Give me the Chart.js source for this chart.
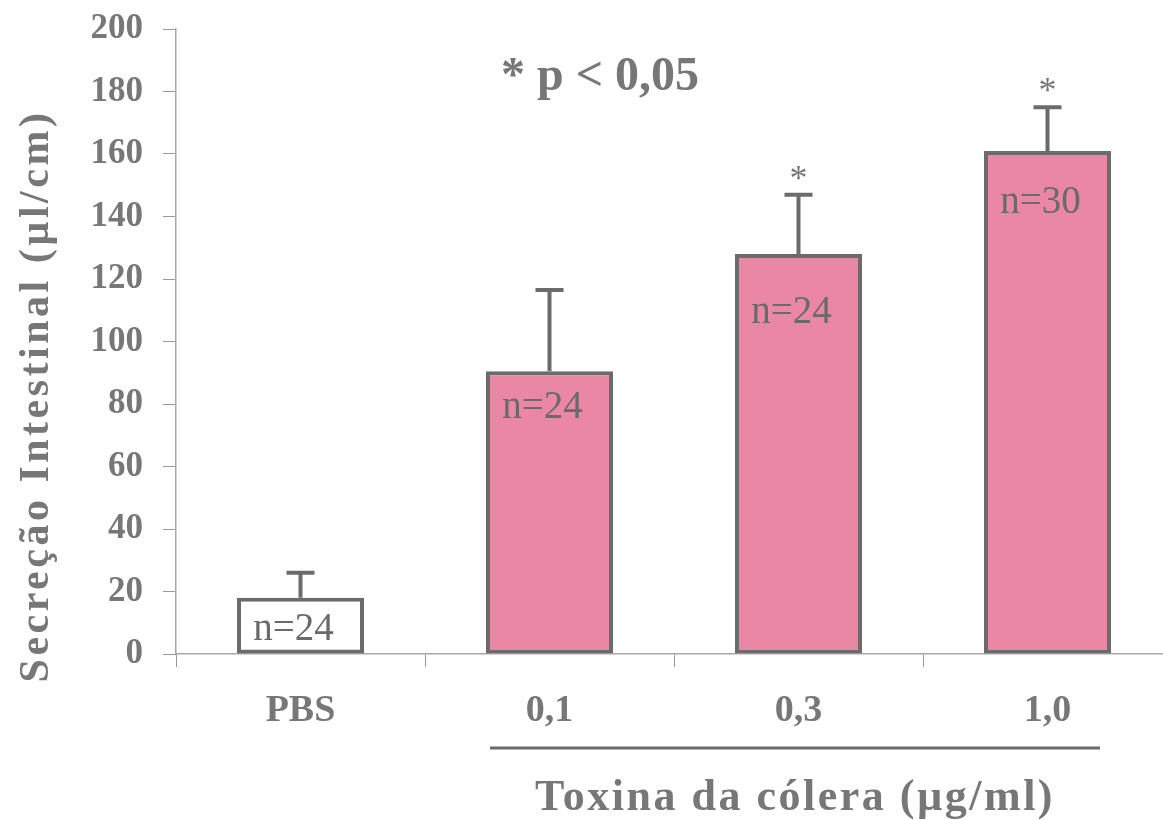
<!DOCTYPE html>
<html>
<head>
<meta charset="utf-8">
<title>Secreção Intestinal</title>
<script src="https://cdn.jsdelivr.net/npm/chart.js@4.4.1/dist/chart.umd.min.js"></script>
<style>
    html, body { margin: 0; padding: 0; background: #fff; overflow: hidden; }
    #chartBox { position: relative; width: 1180px; height: 820px; }
</style>
</head>
<body>
<div id="chartBox">
    <canvas id="secretionChart" width="1180" height="820"></canvas>
</div>
<script>
// Groups and measured secretion (mean + upper error)
const groups = ["PBS", "0,1", "0,3", "1,0"];
const secretion = [18, 90.5, 128, 161];
const errorUp = [8, 26, 19, 14];
const sampleSizes = ["n=24", "n=24", "n=24", "n=30"];
const significant = [false, false, true, true];
const yTicks = [0, 20, 40, 60, 80, 100, 120, 140, 160, 180, 200];

const SERIF = "'Liberation Serif', 'Times New Roman', serif";
const GREY_TEXT = "#777777";
const GREY_LINE = "#6b6b6b";

document.addEventListener("DOMContentLoaded", () => {
    const ctx = document.getElementById("secretionChart").getContext("2d");

    // Error bars, n= labels, asterisks and the free text around the plot
    const annotations = {
        id: "annotations",
        afterDatasetsDraw(chart) {
            const c = chart.ctx;
            const y = chart.scales.y;
            const meta = chart.getDatasetMeta(0);
            const nOffset = [32, 37, 59, 52];

            c.save();
            meta.data.forEach((bar, i) => {
                const cx = bar.x;
                const topY = y.getPixelForValue(secretion[i]);
                const capY = y.getPixelForValue(secretion[i] + errorUp[i]);

                c.strokeStyle = GREY_LINE;
                c.lineWidth = 4;
                c.beginPath();
                c.moveTo(cx, topY);
                c.lineTo(cx, capY);
                c.moveTo(cx - 14, capY);
                c.lineTo(cx + 14, capY);
                c.stroke();

                c.fillStyle = "#6a6a6a";
                c.font = "39px " + SERIF;
                c.textAlign = "center";
                c.textBaseline = "middle";
                c.fillText(sampleSizes[i], cx - 7, topY + nOffset[i]);

                if (significant[i]) {
                    c.fillStyle = GREY_TEXT;
                    c.font = "36px " + SERIF;
                    c.textBaseline = "alphabetic";
                    c.fillText("*", cx, capY - 5);
                }
            });

            // p-value note
            c.fillStyle = GREY_TEXT;
            c.font = "bold 48px " + SERIF;
            c.textAlign = "center";
            c.textBaseline = "alphabetic";
            c.fillText("* p < 0,05", 600, 90);

            // bracket line under the toxin doses
            c.strokeStyle = GREY_LINE;
            c.lineWidth = 3;
            c.beginPath();
            c.moveTo(490, 748);
            c.lineTo(1100, 748);
            c.stroke();

            // x title
            c.letterSpacing = "2.5px";
            c.font = "bold 44px " + SERIF;
            c.fillText("Toxina da cólera (µg/ml)", 795, 810);

            // y title
            c.translate(48, 396);
            c.rotate(-Math.PI / 2);
            c.letterSpacing = "3.5px";
            c.font = "bold 42px " + SERIF;
            c.fillText("Secreção Intestinal (µl/cm)", 0, 0);
            c.restore();
        }
    };

    new Chart(ctx, {
        type: "bar",
        data: {
            labels: groups,
            datasets: [{
                label: "Secreção Intestinal",
                data: secretion,
                backgroundColor: ["#ffffff", "#ea87a4", "#ea87a4", "#ea87a4"],
                borderColor: GREY_LINE,
                borderWidth: 4,
                borderSkipped: false,
                categoryPercentage: 1,
                barPercentage: 0.51
            }]
        },
        options: {
            responsive: false,
            animation: false,
            layout: { padding: { top: 29, right: 8, left: 0, bottom: 0 } },
            plugins: {
                legend: { display: false },
                tooltip: { enabled: false }
            },
            scales: {
                x: {
                    grid: { drawOnChartArea: false, tickLength: 13, color: "#9a9a9a", offset: true },
                    border: { color: "#a8a8a8", width: 1.5 },
                    ticks: {
                        color: GREY_TEXT,
                        font: { family: SERIF, size: 38, weight: "bold" },
                        padding: 21
                    },
                    afterFit(scale) {
                        scale.height = 166;
                        scale.paddingLeft = 0;
                        scale.paddingRight = 0;
                    }
                },
                y: {
                    min: 0,
                    max: 200,
                    afterBuildTicks(scale) { scale.ticks = yTicks.map(v => ({ value: v })); },
                    grid: { drawOnChartArea: false, tickLength: 13, color: "#9a9a9a" },
                    border: { color: "#a8a8a8", width: 1.5 },
                    ticks: {
                        color: GREY_TEXT,
                        font: { family: SERIF, size: 35, weight: "bold" },
                        padding: 20
                    },
                    afterFit(scale) {
                        scale.width = 176;
                        scale.paddingTop = 0;
                        scale.paddingBottom = 0;
                    }
                }
            }
        },
        plugins: [annotations]
    });
});
</script>
</body>
</html>
